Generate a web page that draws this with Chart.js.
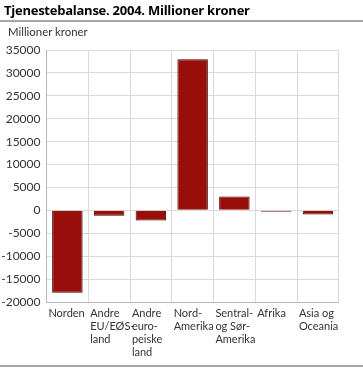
<!DOCTYPE html>
<html>
<head>
<meta charset="utf-8">
<script src="https://cdn.jsdelivr.net/npm/chart.js@4/dist/chart.umd.min.js"></script>
<style>
  body { margin: 0; background: #fff; font-family: "Open Sans", sans-serif; }
  #wrap { position: relative; width: 363px; height: 368px; overflow: hidden; }
  #title { position: absolute; left: 4px; top: 1px; font-size: 13px; font-weight: bold; color: #000; letter-spacing: -0.25px; }
  #topline { position: absolute; left: 0; top: 20px; width: 363px; height: 2px; background: #a6a6a6; }
  #unit { position: absolute; left: 8px; top: 25px; font-family: Lato, sans-serif; font-size: 11.4px; color: #333; }
  #botline { position: absolute; left: 0; top: 365px; width: 363px; height: 2px; background: #a6a6a6; }
  canvas { position: absolute; left: 0; top: 0; }
</style>
</head>
<body>
<div id="wrap">
  <canvas id="my-chart" width="363" height="368"></canvas>
  <div id="title">Tjenestebalanse. 2004. Millioner kroner</div>
  <div id="topline"></div>
  <div id="unit">Millioner kroner</div>
  <div id="botline"></div>
</div>
<script>
const regions = [
  "Norden",
  ["Andre", "EU/EØS-", "land"],
  ["Andre", "euro-", "peiske", "land"],
  ["Nord-", "Amerika"],
  ["Sentral-", "og Sør-", "Amerika"],
  "Afrika",
  ["Asia og", "Oceania"],
];
const balance = [-18000, -1200, -2200, 33000, 3000, -300, -900];

const yMin = -20000;
const yMax = 35000;
const yStep = 5000;

const ctx = document.getElementById("my-chart");

new Chart(ctx, {
  type: "bar",
  data: {
    labels: regions,
    datasets: [
      {
        data: balance,
        backgroundColor: "#990e0a",
        borderColor: "#3e0603",
        borderWidth: 1,
        barPercentage: 0.73,
        categoryPercentage: 1,
      },
    ],
  },
  options: {
    responsive: false,
    animation: false,
    layout: { padding: { top: 50, right: 10, left: 0, bottom: 0 } },
    plugins: {
      legend: { display: false },
      tooltip: { enabled: false },
    },
    scales: {
      x: {
        grid: { color: "#dadada", drawTicks: false, offset: true },
        border: { color: "#b8b8b8" },
        ticks: {
          color: "#333",
          font: { family: "Lato", size: 11, lineHeight: 1.18 },
          padding: 5,
          align: "start",
          labelOffset: -19,
          maxRotation: 0,
          autoSkip: false,
        },
        afterFit: (scale) => { scale.height = 66; },
      },
      y: {
        min: yMin,
        max: yMax,
        grid: { color: "#dadada", drawTicks: false },
        border: { color: "#b8b8b8" },
        ticks: {
          stepSize: yStep,
          format: { useGrouping: false },
          color: "#333",
          font: { family: "Lato", size: 12 },
          padding: 6,
        },
        afterFit: (scale) => { scale.width = 46.5; },
      },
    },
  },
});
</script>
</body>
</html>
